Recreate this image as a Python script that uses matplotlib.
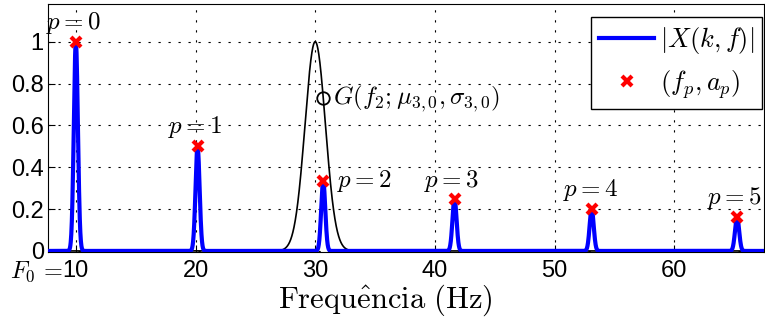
import numpy as np
import matplotlib.pyplot as plt

plt.rcParams['mathtext.fontset'] = 'cm'
plt.rcParams['font.family'] = ['Liberation Sans', 'DejaVu Sans']

# Partial frequencies (Hz) and amplitudes
peak_freqs = [10.0, 20.17, 30.67, 41.64, 53.1, 65.25]
peak_amps = [1.0, 0.5, 0.333, 0.25, 0.2, 0.163]
peak_labels = ['$p=0$', '$p=1$', '$p=2$', '$p=3$', '$p=4$', '$p=5$']

# Gaussian window G(f; mu, sigma)
g_mu = 30.0
g_sigma = 0.85
peak_width = 0.17

xticks = [10, 20, 30, 40, 50, 60]
xticklabels = ['10', '20', '30', '40', '50', '60']
yticks = [0, 0.2, 0.4, 0.6, 0.8, 1]
yticklabels = ['0', '0.2', '0.4', '0.6', '0.8', '1']

f = np.linspace(7.5, 68, 4000)
spec = np.zeros_like(f)
for fp, ap in zip(peak_freqs, peak_amps):
    spec += ap * np.exp(-(f - fp) ** 2 / (2 * peak_width ** 2))
gauss = np.exp(-(f - g_mu) ** 2 / (2 * g_sigma ** 2))

fig = plt.figure(figsize=(7.65, 3.22), dpi=100)
ax = fig.add_axes([0.0627, 0.2174, 0.9360, 0.7702])

ax.plot(f, gauss, color='black', lw=1.2, zorder=2)
ax.plot(f, spec, color='blue', lw=3, label='$|X(k,f)|$', zorder=3)
ax.plot(peak_freqs, peak_amps, 'x', color='red', ms=7, mew=3, label='$(f_p,a_p)$', zorder=4)

# marker on the Gaussian at f_2
g_at_f2 = np.exp(-(peak_freqs[2] - g_mu) ** 2 / (2 * g_sigma ** 2))
ax.plot([peak_freqs[2]], [g_at_f2], 'o', mfc='none', mec='black', ms=9, mew=1.3, zorder=5)
ax.text(31.5, g_at_f2 - 0.005, '$G(f_2;\\mu_{3,0},\\sigma_{3,0})$', fontsize=18, va='center', ha='left')

# p labels
lab_pos = [(9.8, 1.09, 'center'), (20.0, 0.59, 'center'), (31.8, 0.335, 'left'),
           (41.4, 0.335, 'center'), (53.0, 0.29, 'center'), (65.0, 0.255, 'center')]
for (x, y, ha), lab in zip(lab_pos, peak_labels):
    ax.text(x, y, lab, fontsize=18, ha=ha, va='center')

ax.set_xlim(7.67, 67.5)
ax.set_ylim(-0.005, 1.18)
ax.set_xticks(xticks)
ax.set_xticklabels(xticklabels, fontsize=17)
ax.set_yticks(yticks)
ax.set_yticklabels(yticklabels, fontsize=17)
ax.tick_params(axis='x', direction='in', length=5, pad=6)
ax.tick_params(axis='y', direction='in', length=5, pad=3)
ax.grid(True, color='black', linestyle=(0, (2, 7)), lw=0.8)

# "F_0 =" prefix in front of the first tick label
ax.text(8.9, -0.08, '$F_0\\,=$', fontsize=17.5, ha='right', va='center',
        transform=ax.get_xaxis_transform())

ax.set_xlabel('$\\mathrm{Frequ\\hat{e}ncia\\ (Hz)}$', fontsize=22, va='center')
ax.xaxis.set_label_coords((385 - 48) / 716, -0.195)

leg = ax.legend(loc='upper right', bbox_to_anchor=(0.997, 0.948), borderaxespad=0,
                fontsize=19, fancybox=False, framealpha=1, edgecolor='black',
                handlelength=2.1, handletextpad=0.2, borderpad=0.3, labelspacing=0.45,
                numpoints=1)
leg.get_frame().set_linewidth(1.0)

fig.savefig('out.png', dpi=100)
